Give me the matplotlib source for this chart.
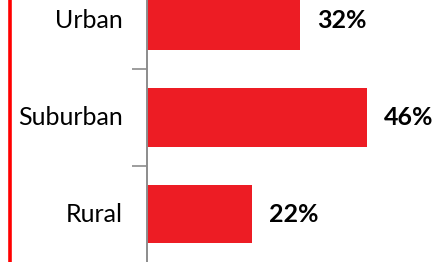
import matplotlib
matplotlib.use("Agg")
import matplotlib.pyplot as plt

CATEGORIES = ["Urban", "Suburban", "Rural"]
VALUES = [32, 46, 22]
LABELS = ["32%", "46%", "22%"]

BAR_COLOR = "#ED1C24"
AXIS_COLOR = "#8C8C8C"

plt.rcParams["font.family"] = ["Lato", "DejaVu Sans"]

fig = plt.figure(figsize=(4.33, 2.62), dpi=100)
# axes runs past the top and bottom edges, the picture is cropped
ax = fig.add_axes([147 / 433, -0.25 / 262, 286.6 / 433, 289.5 / 262])

ypos = list(range(len(CATEGORIES)))
ax.barh(ypos, VALUES, height=0.61, color=BAR_COLOR)
ax.set_ylim(2.5, -0.5)
ax.set_xlim(0, 60)

for y, v, lab in zip(ypos, VALUES, LABELS):
    ax.annotate(lab, (v, y), xytext=(17, 0), textcoords="offset pixels",
                ha="left", va="center", fontsize=18, fontweight="bold")

for y, cat in zip(ypos, CATEGORIES):
    ax.annotate(cat, (0, y), xycoords=("axes fraction", "data"),
                xytext=(-24, 0), textcoords="offset pixels",
                ha="right", va="center", fontsize=18)

ax.set_yticks([0.5, 1.5])
ax.set_yticklabels([])
ax.tick_params(axis="y", length=10.8, width=1.2, color=AXIS_COLOR, direction="out")
ax.set_xticks([])
for s in ["top", "right", "bottom"]:
    ax.spines[s].set_visible(False)
ax.spines["left"].set_color(AXIS_COLOR)
ax.spines["left"].set_linewidth(1.4)

# red rule on the left edge
fig.add_artist(plt.Line2D([9.5 / 433, 9.5 / 433], [0, 1], color="#FF0000",
                          linewidth=2.6, transform=fig.transFigure))

fig.savefig("out.png", dpi=100)
